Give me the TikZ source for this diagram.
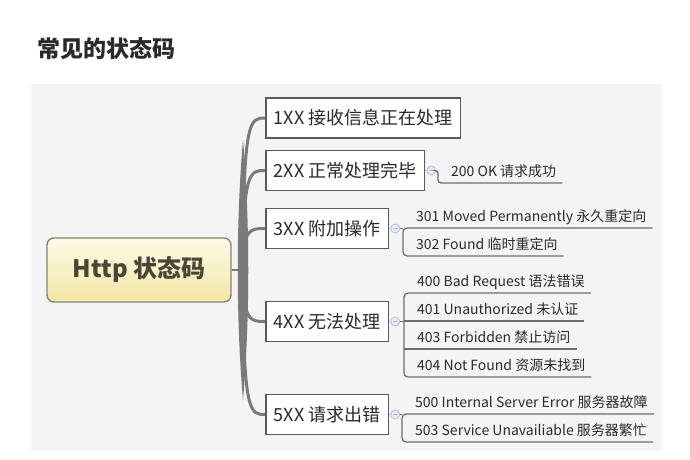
\documentclass[tikz,border=0pt]{standalone}
\usepackage{fontspec}
\setmainfont{Noto Sans CJK SC}
\usetikzlibrary{calc}

\definecolor{bgpane}{HTML}{F4F4F4}
\definecolor{trunk}{HTML}{7A7A7A}
\definecolor{boxline}{HTML}{5A5A5A}
\definecolor{twigline}{HTML}{6E6E6E}
\definecolor{txt}{HTML}{2A2A2A}
\definecolor{rootline}{HTML}{8A8470}
\definecolor{roottop}{HTML}{FDFBE8}
\definecolor{rootbot}{HTML}{F1E6A6}
\definecolor{roottxt}{HTML}{4A4536}
\definecolor{foldline}{HTML}{B4C0D8}
\definecolor{foldfill}{HTML}{E8ECF6}

\tikzset{
 rootbox/.style={draw=rootline,line width=1.4pt,rounded corners=7pt,top color=roottop,bottom color=rootbot,
  minimum width=184pt,minimum height=64pt,font=\fontsize{24}{28}\selectfont\bfseries,text=roottxt},
 codebox/.style={draw=boxline,line width=1.6pt,fill=white,anchor=west,minimum height=40pt,inner xsep=8pt,
  font=\fontsize{18}{20}\selectfont,text=txt},
 leaf/.style={anchor=south west,inner xsep=6pt,inner ysep=0pt,text height=11pt,text depth=6pt,
  font=\fontsize{14}{16}\selectfont,text=txt},
 branch/.style={draw=trunk,line width=3pt},
 twig/.style={draw=twigline,line width=1.3pt},
 fold/.style={circle,minimum size=9pt,inner sep=0pt,draw=foldline,fill=foldfill,line width=.8pt,
  path picture={\draw[foldline,line width=.7pt] ([xshift=2pt]path picture bounding box.west)
   -- ([xshift=-2pt]path picture bounding box.east);}},
}

\begin{document}
\begin{tikzpicture}[x=1pt,y=-1pt]
\useasboundingbox (0,0) rectangle (690,460);
\fill[bgpane] (31,84) rectangle (662,451);
\node[anchor=west,inner sep=0pt,font=\fontsize{23}{26}\selectfont\bfseries,text=txt] (title) at (37,49) {常见的状态码};

% root and trunk
\node[rootbox] (root) at (139,270) {Http 状态码};
\coordinate (hub) at (243,270);
\fill[trunk] (243,140) .. controls (236,220) and (236,320) .. (243,400) .. controls (250,320) and (250,220) .. (243,140) -- cycle;
\draw[branch,line width=1.2pt] (root.east) -- (hub);

% first level
\node[codebox] (n1) at (265,118) {1XX 接收信息正在处理};
\node[codebox] (n2) at (265,170.5) {2XX 正常处理完毕};
\node[codebox] (n3) at (265,228.5) {3XX 附加操作};
\node[codebox] (n4) at (265,321.5) {4XX 无法处理};
\node[codebox] (n5) at (265,414.5) {5XX 请求出错};
\foreach \i in {1,...,5}
 \draw[branch] (hub) .. controls (hub |- n\i.west) and ([xshift=-15pt]n\i.west) .. (n\i.west);

\foreach \i in {2,...,5}{
 \node[fold] (b\i) at ($(n\i.east)+(6,0)$) {};
 \draw[foldline,line width=.8pt] (n\i.east) -- (b\i.west);
}

% leaves
\node[leaf] (c200) at (445,183) {200 OK 请求成功};
\node[leaf] (c301) at (410,228) {301 Moved Permanently 永久重定向};
\node[leaf] (c302) at (410,256) {302 Found 临时重定向};
\node[leaf] (c400) at (411,293) {400 Bad Request 语法错误};
\node[leaf] (c401) at (411,321) {401 Unauthorized 未认证};
\node[leaf] (c403) at (411,349) {403 Forbidden 禁止访问};
\node[leaf] (c404) at (411,377) {404 Not Found 资源未找到};
\node[leaf] (c500) at (409,414) {500 Internal Server Error 服务器故障};
\node[leaf] (c503) at (409,442) {503 Service Unavailiable 服务器繁忙};

% 2XX
\coordinate (k2) at ([xshift=-7pt]c200.south west);
\draw[twig,rounded corners=3pt] (b2.east) -- (k2 |- b2.east) |- (c200.south east);
% 3XX
\coordinate (k3) at ([xshift=-7pt]c301.south west);
\draw[twig] (b3.east) -- (k3 |- b3.east);
\draw[twig,rounded corners=4pt] (c301.south east) -- (k3) |- (c302.south east);
% 4XX
\coordinate (k4) at ([xshift=-7pt]c400.south west);
\draw[twig] (b4.east) -- (k4 |- b4.east);
\draw[twig,rounded corners=4pt] (c400.south east) -- (k4) |- (c404.south east);
\foreach \c in {401,403}
 \draw[twig] (k4 |- c\c.south west) -- (c\c.south east);
% 5XX
\coordinate (k5) at ([xshift=-7pt]c500.south west);
\draw[twig] (b5.east) -- (k5 |- b5.east);
\draw[twig,rounded corners=4pt] (c500.south east) -- (k5) |- (c503.south east);
\end{tikzpicture}
\end{document}
